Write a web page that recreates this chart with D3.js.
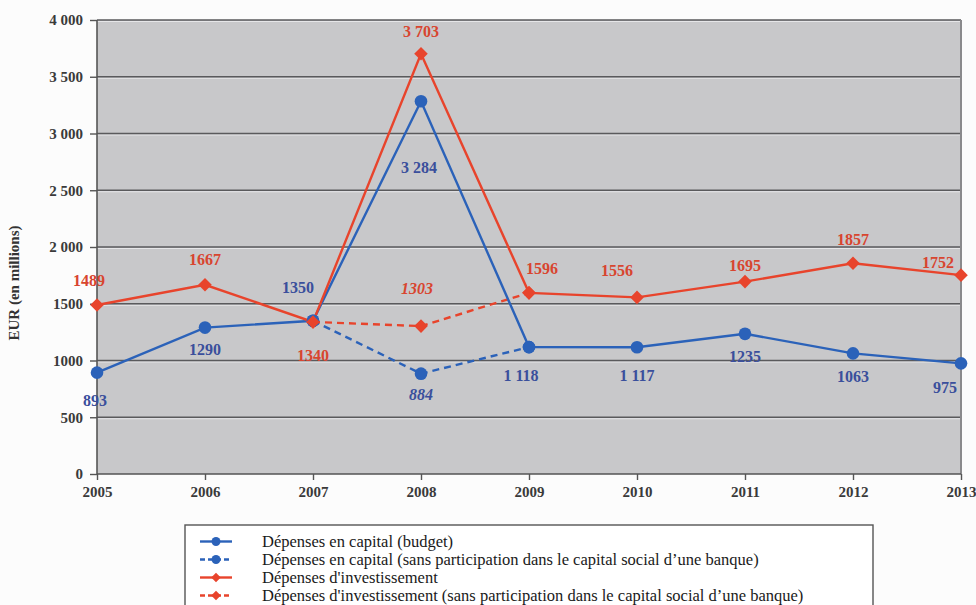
<!DOCTYPE html>
<html>
<head>
<meta charset="utf-8">
<script src="https://cdn.jsdelivr.net/npm/d3@7"></script>
<style>
  body { margin: 0; background: #fcfcfc; }
  svg { display: block; }
  text { font-family: "Liberation Serif", "Times New Roman", "DejaVu Serif", serif; }
</style>
</head>
<body>
<svg id="chart"></svg>
<script>
// Data
var years = ["2005", "2006", "2007", "2008", "2009", "2010", "2011", "2012", "2013"];
var capitalBudget = [893, 1290, 1350, 3284, 1118, 1117, 1235, 1063, 975];
var capitalBudgetLabels = ["893", "1290", "1350", "3 284", "1 118", "1 117", "1235", "1063", "975"];
var capitalNoBank = [null, null, 1350, 884, 1118, null, null, null, null];
var capitalNoBankLabels = [null, null, null, "884", null, null, null, null, null];
var investment = [1489, 1667, 1340, 3703, 1596, 1556, 1695, 1857, 1752];
var investmentLabels = ["1489", "1667", "1340", "3 703", "1596", "1556", "1695", "1857", "1752"];
var investmentNoBank = [null, null, 1340, 1303, 1596, null, null, null, null];
var investmentNoBankLabels = [null, null, null, "1303", null, null, null, null, null];
var yTicks = [0, 500, 1000, 1500, 2000, 2500, 3000, 3500, 4000];
var yTickLabels = ["0", "500", "1000", "1500", "2 000", "2 500", "3 000", "3 500", "4 000"];
var legendLabels = [
    "Dépenses en capital (budget)",
    "Dépenses en capital (sans participation dans le capital social d\u2019une banque)",
    "Dépenses d'investissement",
    "Dépenses d'investissement (sans participation dans le capital social d\u2019une banque)"
];

// Layout
var width = 976, height = 605;
var margin = {top: 20, right: 15, bottom: 131, left: 97};
var innerW = width - margin.left - margin.right,
    innerH = height - margin.top - margin.bottom;

var blue = "#2b62b9", blueText = "#3a4f9c",
    red = "#e8442c", redText = "#d8452f";
var fontStack = "'Liberation Serif', 'Times New Roman', 'DejaVu Serif', serif";

// label offsets (dx, dy) per point, relative to the marker
var budgetOff = [[-2, 28], [0, 22], [-15, -33], [-2, 66], [-8, 28], [0, 28], [0, 23], [0, 23], [-16, 24]];
var investOff = [[-8, -25], [0, -25], [0, 33], [0, -22], [13, -24], [-20, -27], [0, -16], [0, -24], [-23, -13]];

var svg = d3.select("#chart").attr("width", width).attr("height", height);

var x = d3.scalePoint().domain(years).range([0, innerW]);
var y = d3.scaleLinear().domain([0, 4000]).range([innerH, 0]);

var g = svg.append("g").attr("transform", "translate(" + margin.left + "," + margin.top + ")");

// plot background
g.append("rect")
    .attr("width", innerW).attr("height", innerH)
    .attr("fill", "#c8c8ca");

// gridlines with light highlight underneath
g.selectAll(".grid-hi")
    .data(yTicks.slice(1))
    .enter().append("line")
    .attr("x1", 0).attr("x2", innerW)
    .attr("y1", function (d) { return y(d) + 1.5; })
    .attr("y2", function (d) { return y(d) + 1.5; })
    .attr("stroke", "#e6e6e8").attr("stroke-width", 1);
g.selectAll(".grid")
    .data(yTicks.slice(1))
    .enter().append("line")
    .attr("x1", 0).attr("x2", innerW)
    .attr("y1", function (d) { return y(d); })
    .attr("y2", function (d) { return y(d); })
    .attr("stroke", "#5a5a5c").attr("stroke-width", 1.4);

// right edge shade
g.append("line")
    .attr("x1", innerW).attr("x2", innerW).attr("y1", 0).attr("y2", innerH)
    .attr("stroke", "#8a8a8c").attr("stroke-width", 2);

// axes
var yAxis = d3.axisLeft(y).tickValues(yTicks).tickSize(7).tickPadding(7)
    .tickFormat(function (d, i) { return yTickLabels[i]; });
var xAxis = d3.axisBottom(x).tickSize(6).tickPadding(6);

var ya = g.append("g").call(yAxis);
var xa = g.append("g").attr("transform", "translate(0," + innerH + ")").call(xAxis);
[ya, xa].forEach(function (a) {
    a.attr("font-family", null);
    a.select(".domain").attr("stroke", "#555").attr("stroke-width", 1.6);
    a.selectAll(".tick line").attr("stroke", "#555").attr("stroke-width", 1.4);
    a.selectAll(".tick text")
        .attr("fill", "#3a3a3a")
        .style("font-family", fontStack)
        .style("font-weight", "bold")
        .style("font-size", "15px");
});
xa.select(".domain").attr("d", "M0,0H" + innerW);
ya.select(".domain").attr("d", "M0," + innerH + "V0");

// y title
svg.append("text")
    .attr("transform", "translate(19," + (margin.top + 263) + ") rotate(-90)")
    .attr("text-anchor", "middle")
    .attr("fill", "#333")
    .style("font-weight", "bold")
    .style("font-size", "15px")
    .text("EUR (en millions)");

// lines
function lineFor() {
    return d3.line()
        .defined(function (d) { return d != null; })
        .x(function (d, i) { return x(years[i]); })
        .y(function (d) { return y(d); });
}

var series = [
    {values: capitalNoBank, color: blue, dash: "7,5", shape: "circle"},
    {values: investmentNoBank, color: red, dash: "7,5", shape: "diamond"},
    {values: capitalBudget, color: blue, dash: null, shape: "circle"},
    {values: investment, color: red, dash: null, shape: "diamond"}
];

series.forEach(function (s) {
    g.append("path")
        .datum(s.values)
        .attr("d", lineFor())
        .attr("fill", "none")
        .attr("stroke", s.color)
        .attr("stroke-width", 2.4)
        .attr("stroke-dasharray", s.dash);
});

function markerPath(shape, scale) {
    return shape === "circle"
        ? d3.symbol().type(d3.symbolCircle).size(125 * scale)()
        : d3.symbol().type(d3.symbolSquare).size(92 * scale)();
}

function drawMarkers(s) {
    var pts = s.values.map(function (v, i) { return {v: v, i: i}; })
        .filter(function (d) { return d.v != null; });
    g.selectAll(null)
        .data(pts)
        .enter().append("path")
        .attr("d", markerPath(s.shape, 1))
        .attr("transform", function (d) {
            return "translate(" + x(years[d.i]) + "," + y(d.v) + ")" + (s.shape === "diamond" ? " rotate(45)" : "");
        })
        .attr("fill", s.color);
}
series.forEach(drawMarkers);

// data labels
function drawLabels(values, labels, offs, color, italic) {
    var pts = values.map(function (v, i) { return {v: v, i: i, t: labels[i]}; })
        .filter(function (d) { return d.t != null; });
    g.selectAll(null)
        .data(pts)
        .enter().append("text")
        .attr("x", function (d) { return x(years[d.i]) + offs[d.i][0]; })
        .attr("y", function (d) { return y(d.v) + offs[d.i][1]; })
        .attr("dy", "0.35em")
        .attr("text-anchor", "middle")
        .attr("fill", color)
        .style("font-weight", "bold")
        .style("font-style", italic ? "italic" : "normal")
        .style("font-size", "16px")
        .text(function (d) { return d.t; });
}
drawLabels(capitalBudget, capitalBudgetLabels, budgetOff, blueText, false);
drawLabels(investment, investmentLabels, investOff, redText, false);
drawLabels(capitalNoBank, capitalNoBankLabels, [0, 0, 0, [0, 21], 0, 0, 0, 0, 0], blueText, true);
drawLabels(investmentNoBank, investmentNoBankLabels, [0, 0, 0, [-4, -38], 0, 0, 0, 0, 0], redText, true);

// legend
var legend = svg.append("g").attr("transform", "translate(185,525)");
legend.append("rect")
    .attr("width", 688).attr("height", 90)
    .attr("fill", "#fff")
    .attr("stroke", "#555").attr("stroke-width", 1.4);

var legendColors = [blue, blue, red, red];
var legendShapes = ["circle", "circle", "diamond", "diamond"];

var legendItems = legend.selectAll(".item")
    .data(legendLabels)
    .enter().append("g")
    .attr("transform", function (d, i) { return "translate(0," + (16.5 + i * 18) + ")"; });

legendItems.append("line")
    .attr("x1", 15).attr("x2", 47)
    .attr("stroke", function (d, i) { return legendColors[i]; })
    .attr("stroke-width", 2.4)
    .attr("stroke-dasharray", function (d, i) { return i % 2 ? "5,3" : null; });

legendItems.append("path")
    .attr("d", function (d, i) { return markerPath(legendShapes[i], 0.5); })
    .attr("transform", function (d, i) { return "translate(31,0)" + (legendShapes[i] === "diamond" ? " rotate(45)" : ""); })
    .attr("fill", function (d, i) { return legendColors[i]; });

legendItems.append("text")
    .attr("x", 77)
    .attr("dy", "0.33em")
    .attr("fill", "#1a1a1a")
    .style("font-size", "16.5px")
    .text(function (d) { return d; });
</script>
</body>
</html>
